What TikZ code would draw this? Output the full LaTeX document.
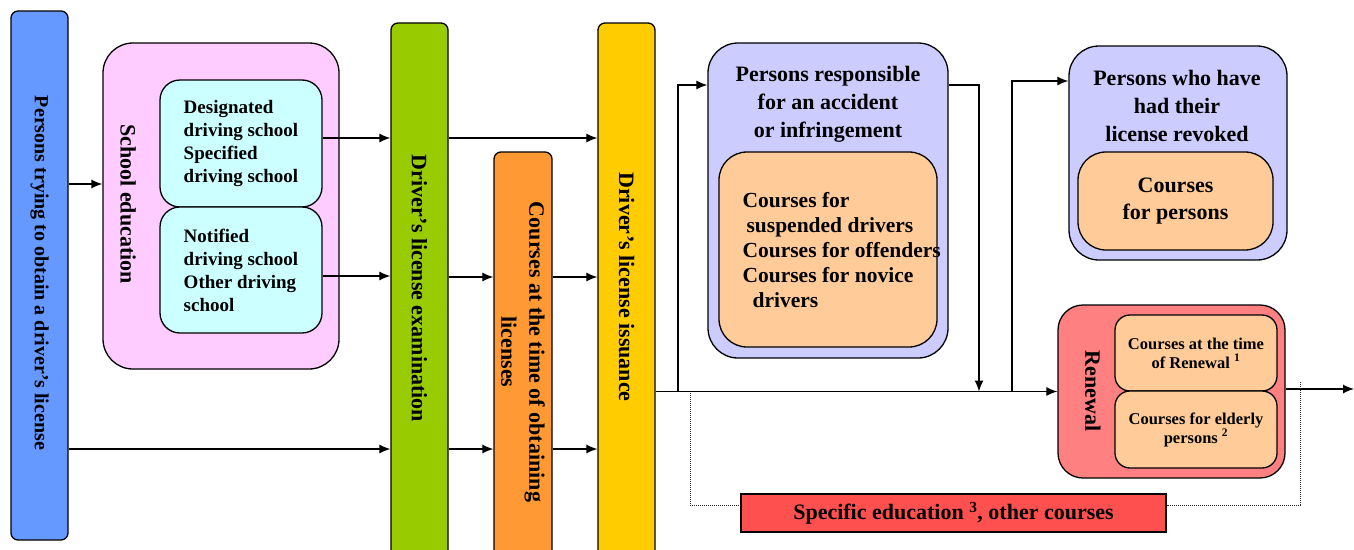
\documentclass[tikz,border=0pt]{standalone}
\usepackage{fontspec}
\setmainfont{Liberation Serif}
\usetikzlibrary{arrows.meta}
\tikzset{>={Latex[length=11pt,width=9pt]}}
\definecolor{seekblue}{HTML}{6699FF}
\definecolor{schoolpink}{HTML}{FFCCFF}
\definecolor{schoolcyan}{HTML}{CCFFFF}
\definecolor{examgreen}{HTML}{99CC00}
\definecolor{obtainorange}{HTML}{FF9933}
\definecolor{issueyellow}{HTML}{FFCC00}
\definecolor{lavender}{HTML}{CCCCFF}
\definecolor{peach}{HTML}{FFCC99}
\definecolor{salmon}{HTML}{FF8080}
\definecolor{specred}{HTML}{FF5050}
\newcommand{\txtbig}{\fontsize{22}{28}\selectfont\bfseries}
\newcommand{\txtside}{\fontsize{20}{24}\selectfont\bfseries}
\newcommand{\txtmid}{\fontsize{19}{23}\selectfont\bfseries}
\newcommand{\txtcourse}{\fontsize{21.5}{25}\selectfont\bfseries}
\newcommand{\txtsmall}{\fontsize{16.5}{19}\selectfont\bfseries}
\tikzset{
  bar/.style={draw, line width=1.3pt, rounded corners=7pt},
  panel/.style={draw, line width=1.3pt, rounded corners=30pt},
  cbox/.style={draw, line width=1.3pt, rounded corners=20pt, fill=schoolcyan,
    minimum width=162pt, align=left, font=\txtmid},
  inner/.style={draw, line width=1.3pt, rounded corners=28pt, fill=peach},
  vtext/.style={rotate=-90, align=center, inner sep=0pt, font=\txtbig},
  title/.style={align=center, inner sep=0pt, font=\txtbig},
  dotline/.style={line width=1pt, black!85, dash pattern=on 1pt off 1pt}
}

\begin{document}
\begin{tikzpicture}[x=1pt,y=-1pt,line width=1.2pt]
\useasboundingbox (0,0) rectangle (1354,549);
%left part
\node[bar, fill=seekblue, minimum width=57pt, minimum height=529pt] (seeker) at (39.5,275.5) {};
\node[vtext, font=\txtside] (seekertxt) at (39.5,273) {Persons trying to obtain a driver's license};
\node[panel, fill=schoolpink, minimum width=236pt, minimum height=326pt] (school) at (221,206) {};
\node[vtext] (schooltxt) at (128,204) {School education};
\node[cbox, minimum height=127pt] (desig) at (241,143.5) {Designated\\driving school\\Specified\\driving school};
\node[cbox, minimum height=126pt] (notif) at (241,270) {Notified\\driving school\\Other driving\\school};
%bars
\node[bar, fill=examgreen, minimum width=57pt, minimum height=537pt] (exam) at (419.5,291.5) {};
\node[vtext] (examtxt) at (419.5,288.5) {Driver's license examination};
\node[bar, fill=obtainorange, minimum width=58pt, minimum height=408pt] (obtain) at (523,356) {};
\node[vtext] (obtaintxt) at (523,352) {Courses at the time of obtaining\\licenses};
\node[bar, fill=issueyellow, minimum width=57pt, minimum height=537pt] (issue) at (626.5,291.5) {};
\node[vtext] (issuetxt) at (626.5,287) {Driver's license issuance};
%right part
\node[panel, fill=lavender, minimum width=240pt, minimum height=315pt] (resp) at (828,200.5) {};
\node[title] (resptitle) at (828,104) {Persons responsible\\for an accident\\or infringement};
\node[inner, minimum width=218pt, minimum height=195pt] (respcourse) at (828,249.5) {};
\node[title, align=left, anchor=west, font=\txtcourse] (resptxt) at (742,250)
  {Courses for\\\hspace*{4pt}suspended drivers\\Courses for offenders\\Courses for novice\\\hspace*{10pt}drivers};
\node[panel, fill=lavender, minimum width=218pt, minimum height=214pt] (revoked) at (1178,153) {};
\node[title] (revokedtitle) at (1177,106) {Persons who have\\had their\\license revoked};
\node[inner, minimum width=195pt, minimum height=98pt, align=center, font=\fontsize{22}{27}\selectfont\bfseries] (revokedcourse) at (1175.5,201) {Courses\\for persons};
\node[panel, fill=salmon, rounded corners=25pt, minimum width=227pt, minimum height=173pt] (renewal) at (1171.5,391.5) {};
\node[vtext] (renewaltxt) at (1093,391) {Renewal};
\node[inner, rounded corners=15pt, minimum width=162pt, minimum height=76pt, align=center, font=\txtsmall] (renewcourse) at (1196,353) {Courses at the time\\of Renewal \textsuperscript{1}};
\node[inner, rounded corners=15pt, minimum width=162pt, minimum height=77pt, align=center, font=\txtsmall] (elderly) at (1196,429.5) {Courses for elderly\\persons \textsuperscript{2}};
\node[draw, line width=1.3pt, fill=specred, minimum width=425pt, minimum height=38pt, font=\txtbig] (specific) at (953.5,513) {Specific education \textsuperscript{3}, other courses};
%arrows
\draw[->] (seeker.east |- 0,184) -- (school.west |- 0,184);
\draw[->] (desig.east |- 0,138) -- (exam.west |- 0,138);
\draw[->] (notif.east |- 0,276) -- (exam.west |- 0,276);
\draw[->] (seeker.east |- 0,449) -- (exam.west |- 0,449);
\draw[->] (exam.east |- 0,138) -- (issue.west |- 0,138);
\foreach \y in {277,449} {
  \draw[->] (exam.east |- 0,\y) -- (obtain.west |- 0,\y);
  \draw[->] (obtain.east |- 0,\y) -- (issue.west |- 0,\y);
}
\draw[->] (issue.east |- renewal.west) -- (renewal.west);
\coordinate (split1) at (678,391.5);
\coordinate (join1) at (979,391.5);
\coordinate (split2) at (1012,391.5);
\draw[->] (split1) |- (resp.west |- 0,85);
\draw[->] (resp.east |- 0,85) -| (join1);
\draw[->] (split2) |- (revoked.west |- 0,81);
\coordinate (exit) at (1354,389);
\draw[->] (renewal.east |- exit) -- (exit);
%dotted lines
\coordinate (dotl) at (690,393);
\coordinate (dotr) at (1300,382);
\draw[dotline] (dotl) |- (specific.west |- 0,505);
\draw[dotline] (dotr) |- (specific.east |- 0,505);
\end{tikzpicture}
\end{document}
